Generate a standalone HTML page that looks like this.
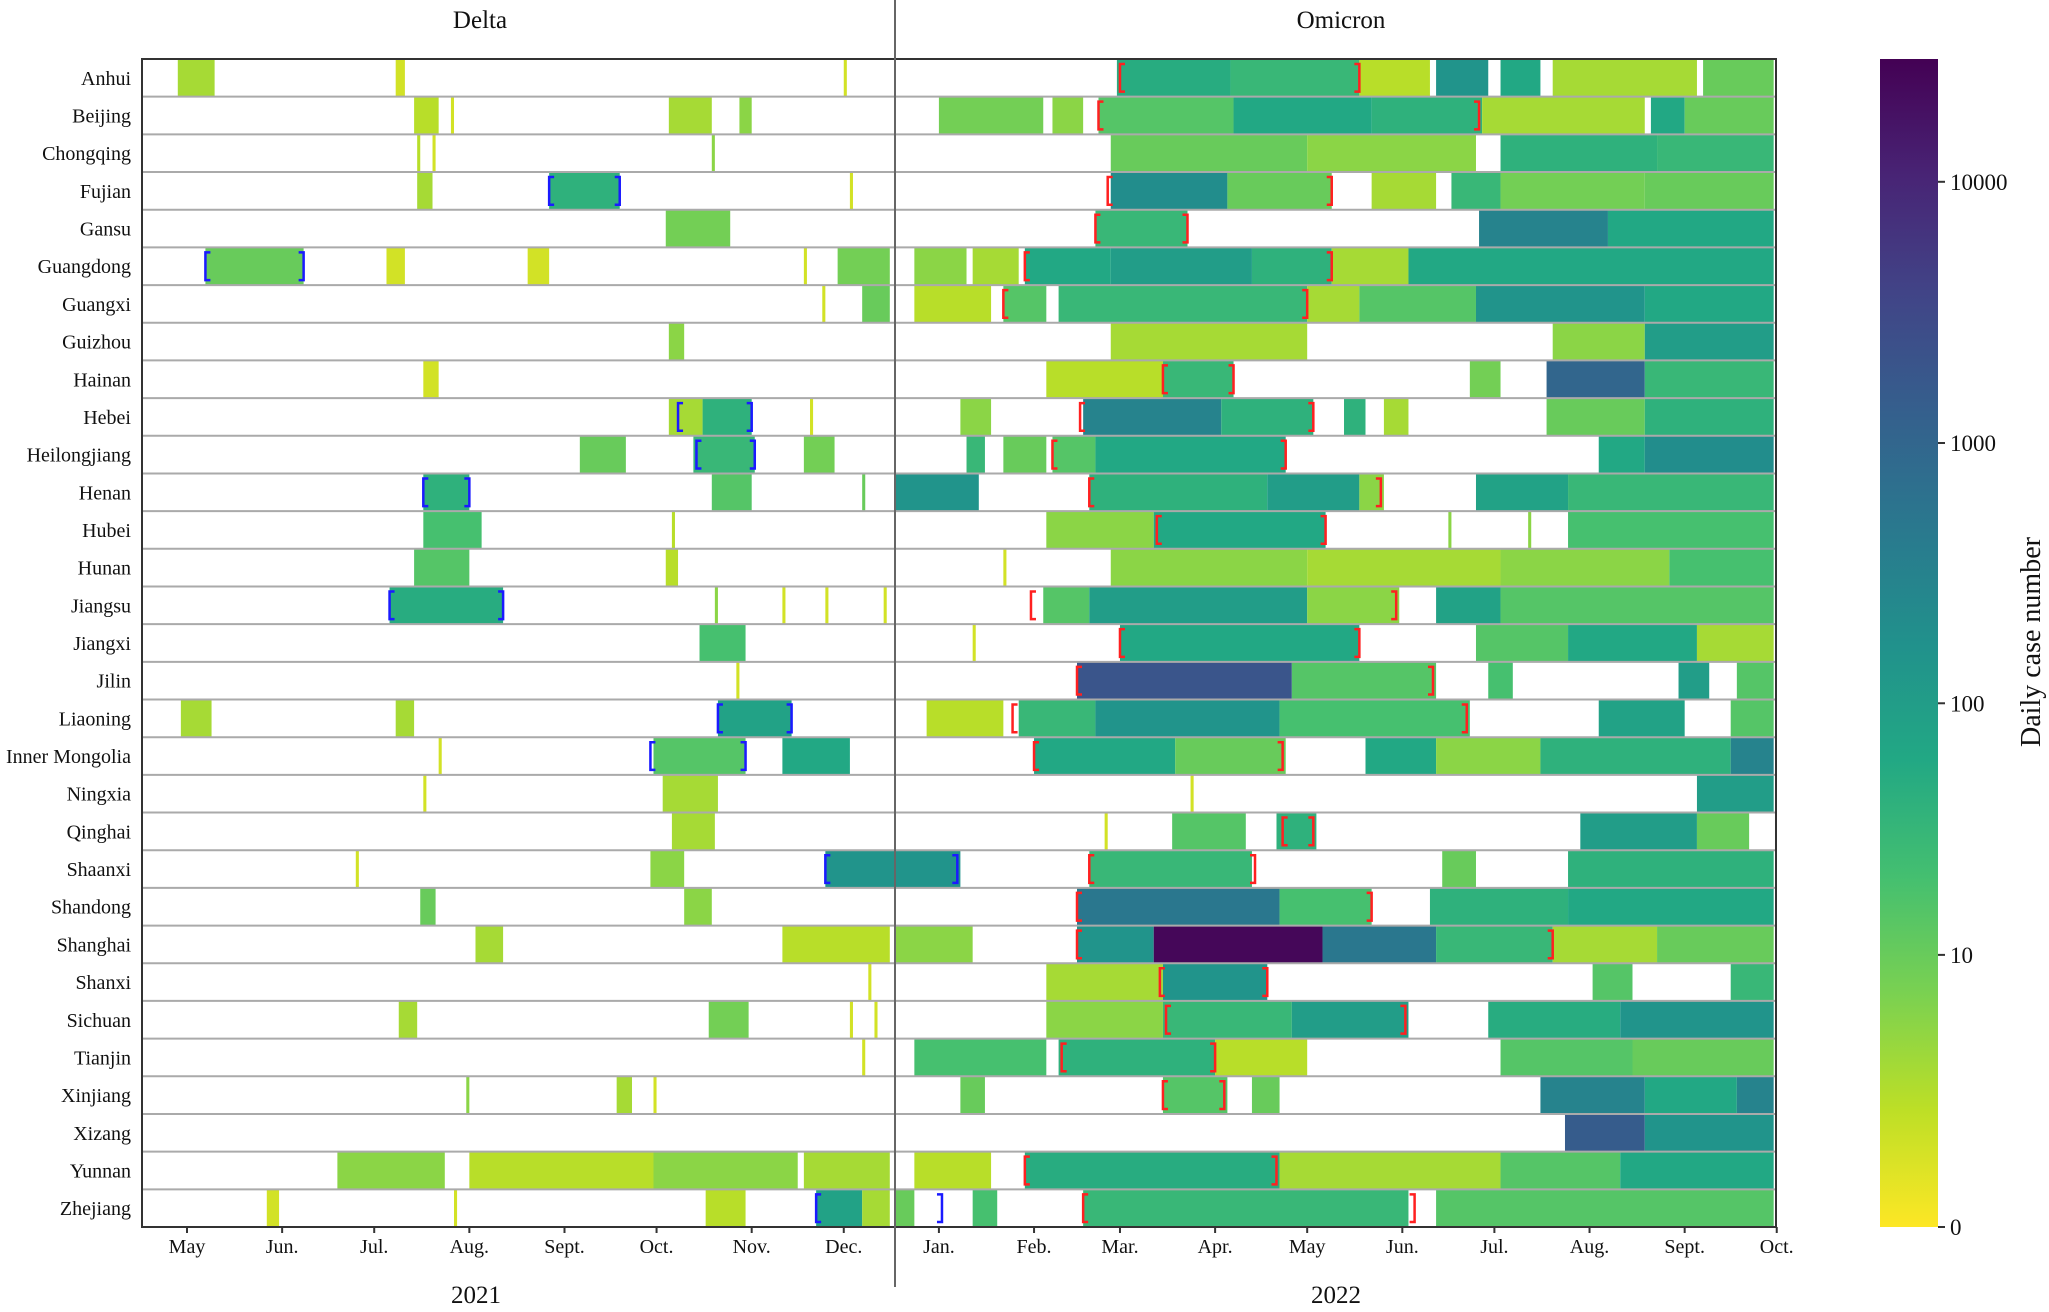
<!DOCTYPE html>
<html><head><meta charset="utf-8">
<style>
body{margin:0;background:#fff;}
svg text{font-family:"Liberation Serif",serif;fill:#111;}
</style></head>
<body>
<svg id="chart" width="2049" height="1307" viewBox="0 0 2049 1307" xmlns="http://www.w3.org/2000/svg">
<defs>
<linearGradient id="cbgrad" x1="0" y1="1" x2="0" y2="0">
<stop offset="0" stop-color="#fde725"/><stop offset="0.1" stop-color="#bddf26"/><stop offset="0.2" stop-color="#7ad151"/><stop offset="0.3" stop-color="#44bf70"/><stop offset="0.4" stop-color="#22a884"/><stop offset="0.5" stop-color="#21918c"/><stop offset="0.6" stop-color="#2a788e"/><stop offset="0.7" stop-color="#355f8d"/><stop offset="0.8" stop-color="#414487"/><stop offset="0.9" stop-color="#482475"/><stop offset="1" stop-color="#440154"/>
</linearGradient>
</defs>
<g id="cells"></g>
<g id="grid"></g>
<g id="brackets"></g>
<g id="labels"></g>
</svg>
<script>
const provinces=["Anhui","Beijing","Chongqing","Fujian","Gansu","Guangdong","Guangxi","Guizhou","Hainan","Hebei","Heilongjiang","Henan","Hubei","Hunan","Jiangsu","Jiangxi","Jilin","Liaoning","Inner Mongolia","Ningxia","Qinghai","Shaanxi","Shandong","Shanghai","Shanxi","Sichuan","Tianjin","Xinjiang","Xizang","Yunnan","Zhejiang"];
// segments: [startDay, endDay, dailyCases], day 0 = 2021-05-01
const segments=[
[[-3,9,3],[68,71,1],[214,215,1],[303,340,50],[340,382,30],[382,405,2],[407,424,150],[428,441,60],[445,492,3],[494,517,10]],
[[74,82,2],[86,87,1],[157,171,3],[180,184,5],[245,279,8],[282,292,5],[297,341,15],[341,386,60],[386,422,40],[422,475,3],[477,488,60],[488,517,10]],
[[75,76,2],[80,81,1],[171,172,5],[301,365,10],[365,420,5],[428,479,40],[479,517,30]],
[[75,80,3],[118,141,40],[216,217,1],[301,339,200],[339,373,10],[386,407,3],[412,428,30],[428,475,8],[475,517,10]],
[[156,177,8],[296,326,30],[421,463,300],[463,517,60]],
[[6,38,10],[65,71,1],[111,118,1],[201,202,1],[212,229,8],[237,254,5],[256,271,3],[273,301,60],[301,347,100],[347,373,40],[373,398,3],[398,517,60]],
[[207,208,1],[220,229,10],[237,262,2],[266,280,15],[284,365,30],[365,382,3],[382,420,15],[420,475,150],[475,517,60]],
[[157,162,5],[301,365,3],[445,475,5],[475,517,100]],
[[77,82,1],[280,318,2],[318,341,30],[418,428,8],[443,475,1000],[475,517,30]],
[[157,168,3],[168,184,40],[203,204,1],[252,262,5],[292,337,300],[337,367,40],[377,384,40],[390,398,3],[443,475,10],[475,517,40]],
[[128,143,10],[165,185,30],[201,211,8],[254,260,30],[266,280,10],[282,296,15],[296,358,60],[460,475,60],[475,517,200]],
[[77,92,40],[171,184,15],[220,221,10],[231,258,150],[294,352,40],[352,382,100],[382,390,5],[420,450,80],[450,517,30]],
[[77,96,20],[158,159,2],[280,315,5],[315,371,60],[411,412,5],[437,438,5],[450,517,20]],
[[74,92,15],[156,160,2],[266,267,1],[301,365,5],[365,428,3],[428,483,5],[483,517,20]],
[[66,103,50],[172,173,5],[194,195,1],[208,209,1],[227,228,1],[279,294,15],[294,365,100],[365,395,5],[407,428,80],[428,517,15]],
[[167,182,20],[256,257,1],[304,382,60],[420,450,15],[450,492,60],[492,517,3]],
[[179,180,1],[290,360,2000],[360,407,15],[424,432,20],[486,496,100],[505,517,15]],
[[-2,8,3],[68,74,3],[173,197,80],[241,266,2],[271,296,30],[296,356,150],[356,418,20],[460,488,80],[503,517,15]],
[[82,83,1],[152,182,15],[194,216,60],[276,322,60],[322,358,10],[384,407,60],[407,441,5],[441,503,40],[503,517,300]],
[[77,78,1],[155,173,3],[327,328,1],[492,517,100]],
[[158,172,3],[299,300,1],[321,345,15],[355,368,40],[454,492,100],[492,509,10]],
[[55,56,1],[151,162,5],[208,252,150],[294,347,30],[409,420,10],[450,517,40]],
[[76,81,10],[162,171,5],[290,356,500],[356,386,20],[405,450,40],[450,517,60]],
[[94,103,3],[194,229,2],[231,256,5],[290,315,150],[315,370,25000],[370,407,500],[407,445,30],[445,479,3],[479,517,10]],
[[222,223,1],[280,318,3],[318,352,150],[458,471,15],[503,517,30]],
[[69,75,3],[170,183,8],[216,217,1],[224,225,1],[280,318,5],[318,360,30],[360,398,100],[424,467,50],[467,517,150]],
[[220,221,1],[237,280,20],[284,335,40],[335,365,2],[428,471,15],[471,517,10]],
[[91,92,5],[140,145,3],[152,153,1],[252,260,10],[318,339,15],[347,356,10],[441,475,300],[475,505,60],[505,517,300]],
[[449,475,1500],[475,517,150]],
[[49,84,5],[92,152,2],[152,199,5],[201,229,3],[237,262,2],[273,356,50],[356,428,3],[428,467,15],[467,517,60]],
[[26,30,1],[87,88,1],[169,182,2],[205,220,80],[220,229,3],[231,237,10],[256,264,20],[292,398,30],[407,517,15]]
];
// outbreak brackets: [rowIndex, startDay, endDay, wave] (wave: "delta" blue, "omicron" red)
const brackets=[
[0,304,382,"omicron"],[1,297,421,"omicron"],[3,118,141,"delta"],[3,300,373,"omicron"],[4,296,326,"omicron"],
[5,6,38,"delta"],[5,273,373,"omicron"],[6,266,365,"omicron"],[8,318,341,"omicron"],[9,160,184,"delta"],[9,291,367,"omicron"],
[10,166,185,"delta"],[10,282,358,"omicron"],[11,77,92,"delta"],[11,294,389,"omicron"],[12,316,371,"omicron"],
[14,66,103,"delta"],[14,275,394,"omicron"],[15,304,382,"omicron"],[16,290,406,"omicron"],[17,173,197,"delta"],[17,269,417,"omicron"],
[18,151,182,"delta"],[18,276,357,"omicron"],[20,357,367,"omicron"],[21,208,251,"delta"],[21,294,348,"omicron"],
[22,290,386,"omicron"],[23,290,445,"omicron"],[24,317,352,"omicron"],[25,319,397,"omicron"],[26,285,335,"omicron"],
[27,318,338,"omicron"],[29,273,355,"omicron"],[30,205,246,"delta"],[30,292,400,"omicron"]
];
const monthLabels=["May","Jun.","Jul.","Aug.","Sept.","Oct.","Nov.","Dec.","Jan.","Feb.","Mar.","Apr.","May","Jun.","Jul.","Aug.","Sept.","Oct."];
const monthDays=[0,31,61,92,123,153,184,214,245,276,304,335,365,396,426,457,488,518];
const cbTicks=[0,10,100,1000,10000];

const L=142,R=1776,T=59,B=1227,rowH=(B-T)/provinces.length;
const xs=d=>187+d*3.069;
const vmaxLog=4.47;
const stops=["#fde725","#bddf26","#7ad151","#44bf70","#22a884","#21918c","#2a788e","#355f8d","#414487","#482475","#440154"];
function hex(c){return[1,3,5].map(i=>parseInt(c.substr(i,2),16));}
function color(v){let t=Math.min(1,Math.log10(v+1)/vmaxLog)*10;let i=Math.min(9,Math.floor(t)),f=t-i;
 const a=hex(stops[i]),b=hex(stops[i+1]);return "rgb("+a.map((x,k)=>Math.round(x+(b[k]-x)*f)).join(",")+")";}
const NS="http://www.w3.org/2000/svg";
function mk(tag,attrs,parent){const e=document.createElementNS(NS,tag);for(const k in attrs)e.setAttribute(k,attrs[k]);parent.appendChild(e);return e;}
const cells=document.getElementById('cells'),grid=document.getElementById('grid'),labels=document.getElementById('labels'),bk=document.getElementById('brackets');
segments.forEach((segs,r)=>{
 segs.forEach(s=>{
  const x1=Math.max(L,xs(s[0])),x2=Math.min(R,Math.max(xs(s[1]),xs(s[0])+3));
  const e=mk('rect',{x:x1,y:T+r*rowH,width:x2-x1,height:rowH,fill:color(s[2])},cells);
  
  
 });
 if(r>0){const g=mk('line',{x1:L,x2:R,y1:T+r*rowH,y2:T+r*rowH,stroke:'#aaa','stroke-width':2},grid);
  
  }
 const t=mk('text',{x:131,y:T+r*rowH+rowH/2+7,'text-anchor':'end','font-size':20},labels);
 t.textContent=provinces[r];
 
 
});
brackets.forEach(b=>{
 const y1=T+b[0]*rowH+5,y2=T+(b[0]+1)*rowH-5,col=b[3]==="delta"?"#1a1aff":"#ff2020";
 const xa=xs(b[1]),xb=xs(b[2]);
 const p1=mk('path',{d:`M${xa+5},${y1}H${xa}V${y2}H${xa+5}`,fill:'none',stroke:col,'stroke-width':2.5},bk);
 
 
 const p2=mk('path',{d:`M${xb-5},${y1}H${xb}V${y2}H${xb-5}`,fill:'none',stroke:col,'stroke-width':2.5},bk);
 
 
});
const fr=mk('rect',{x:L,y:T,width:R-L,height:B-T,fill:'none',stroke:'#333','stroke-width':2},grid);


const dv=mk('line',{x1:895,x2:895,y1:0,y2:1287,stroke:'#666','stroke-width':2},grid);


monthLabels.forEach((m,i)=>{
 const x=xs(monthDays[i]);
 const tk=mk('line',{x1:x,x2:x,y1:B,y2:B+6,stroke:'#333','stroke-width':2},grid);
 
 
 const t=mk('text',{x:x,y:1253,'text-anchor':'middle','font-size':20},labels);
 t.textContent=m;
 
 
});
[["Delta",480,28],["Omicron",1341,28],["2021",476,1303],["2022",1336,1303]].forEach(a=>{
 const t=mk('text',{x:a[1],y:a[2],'text-anchor':'middle','font-size':25},labels);
 t.textContent=a[0];
 
 
});
const cb=mk('rect',{x:1880,y:T,width:58,height:B-T,fill:'url(#cbgrad)'},grid);


cbTicks.forEach(v=>{
 const y=B-(Math.log10(v+1)/vmaxLog)*(B-T);
 const tk=mk('line',{x1:1938,x2:1945,y1:y,y2:y,stroke:'#333','stroke-width':2},grid);
 
 
 const t=mk('text',{x:1950,y:y+8,'font-size':23},labels);
 t.textContent=v;
 
 
});
const ct=mk('text',{x:2040,y:642,'text-anchor':'middle','font-size':28,transform:'rotate(-90 2040 642)'},labels);
ct.textContent="Daily case number";


</script>
</body></html>
